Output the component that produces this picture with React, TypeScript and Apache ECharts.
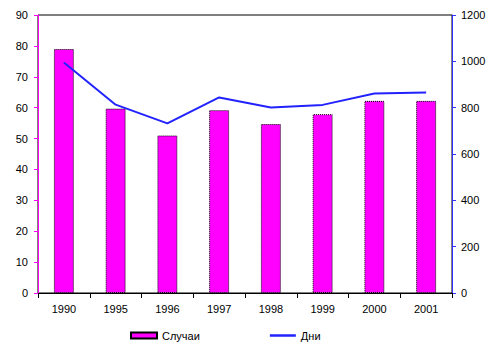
import React, { useEffect, useRef } from "react";
import * as echarts from "echarts";

const categories = ["1990", "1995", "1996", "1997", "1998", "1999", "2000", "2001"];
const cases = [79, 59.7, 51, 59.2, 54.7, 57.9, 62.2, 62.2];
const days = [995, 813, 732, 844, 801, 812, 861, 866];

export default function App() {
  const ref = useRef<HTMLDivElement>(null);
  useEffect(() => {
    if (!ref.current) return;
    const chart = echarts.init(ref.current, null, { renderer: "svg" });
    const font = "Arial, 'Liberation Sans', sans-serif";
    chart.setOption({
      animation: false,
      textStyle: { fontFamily: font },
      grid: {
        left: 38,
        right: 49,
        top: 15,
        bottom: 58,
        show: true,
        borderColor: "#000",
        borderWidth: 1,
        backgroundColor: "transparent",
      },
      legend: {
        left: 125,
        top: 325,
        itemWidth: 26,
        itemHeight: 6,
        itemGap: 70,
        textStyle: { fontFamily: font, fontSize: 11, color: "#000" },
        data: [
          { name: "Случаи", icon: "rect" },
          { name: "Дни", icon: "path://M0,0H26V2.5H0Z" },
        ],
      },
      xAxis: {
        type: "category",
        data: categories,
        axisLine: { lineStyle: { color: "#000", width: 1 } },
        axisTick: { show: true, length: 5, lineStyle: { color: "#000" } },
        axisLabel: { color: "#000", fontSize: 11, margin: 10, fontFamily: font },
      },
      yAxis: [
        {
          type: "value",
          min: 0,
          max: 90,
          interval: 10,
          splitLine: { show: false },
          axisLine: { show: true, lineStyle: { color: "#ff00ff", width: 1 } },
          axisTick: { show: true, length: 4, lineStyle: { color: "#ff00ff" } },
          axisLabel: { color: "#000", fontSize: 11, margin: 10, fontFamily: font },
        },
        {
          type: "value",
          min: 0,
          max: 1200,
          interval: 200,
          position: "right",
          splitLine: { show: false },
          axisLine: { show: true, lineStyle: { color: "#3333ff", width: 1 } },
          axisTick: { show: true, length: 4, lineStyle: { color: "#3333ff" } },
          axisLabel: {
            color: "#000",
            fontSize: 11,
            margin: 9,
            fontFamily: font,
            formatter: (v: number) => String(v),
          },
        },
      ],
      series: [
        {
          name: "Случаи",
          type: "bar",
          data: cases,
          yAxisIndex: 0,
          barWidth: 20,
          itemStyle: {
            color: "#ff00ff",
            borderColor: "#000",
            borderWidth: 1,
            borderType: "dotted",
          },
        },
        {
          name: "Дни",
          type: "line",
          data: days,
          yAxisIndex: 1,
          symbol: "none",
          lineStyle: { color: "#2222ff", width: 2 },
          itemStyle: { color: "#2222ff" },
        },
      ],
    });
    return () => chart.dispose();
  }, []);
  return <div ref={ref} style={{ width: 501, height: 351, position: "absolute", left: 0, top: 0 }} />;
}
